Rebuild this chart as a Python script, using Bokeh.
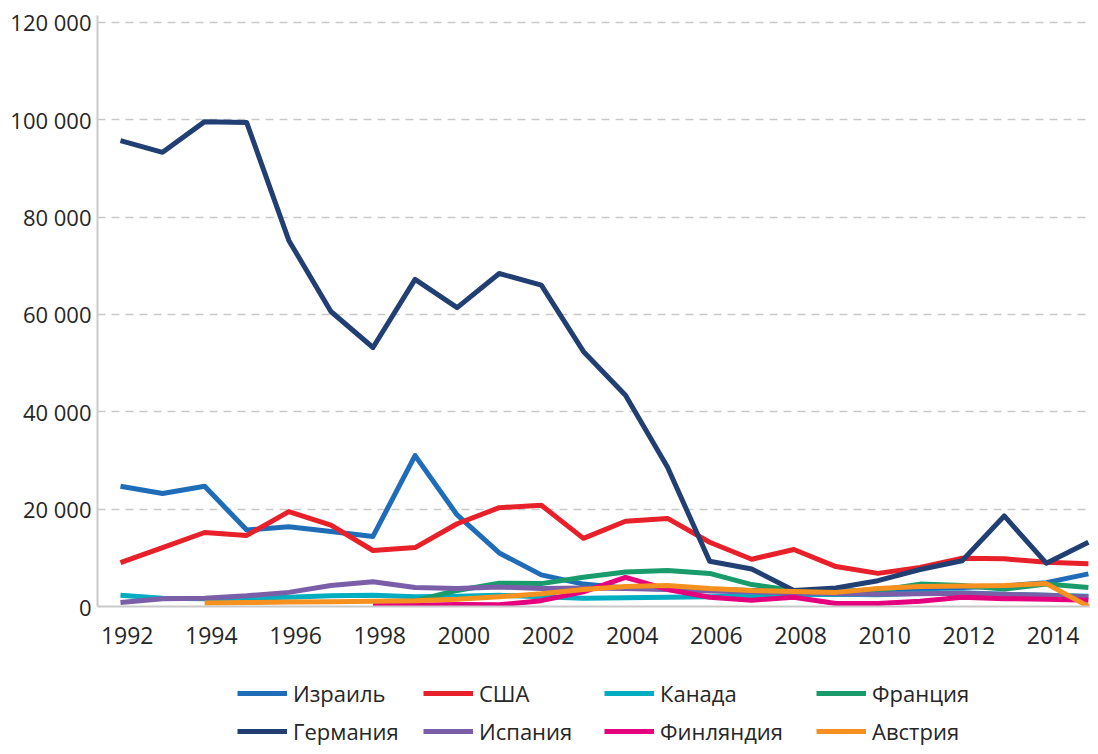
from bokeh.plotting import figure
from bokeh.layouts import column
from bokeh.models import Range1d, FixedTicker, Legend, LegendItem, ColumnDataSource
from bokeh.embed import file_html
from bokeh.resources import INLINE

years = [1992, 1993, 1994, 1995, 1996, 1997, 1998, 1999, 2000, 2001, 2002, 2003,
         2004, 2005, 2006, 2007, 2008, 2009, 2010, 2011, 2012, 2013, 2014, 2015]

israel = [24700, 23200, 24700, 15700, 16400, 15400, 14400, 31000, 18800, 11000, 6500, 4600,
          3800, 3600, 3500, 3300, 3300, 3200, 3300, 3600, 3900, 4200, 4900, 6700]
usa = [9000, 12100, 15200, 14600, 19500, 16700, 11500, 12100, 17000, 20300, 20800, 14000,
       17500, 18100, 13200, 9700, 11700, 8200, 6800, 8000, 9900, 9800, 9100, 8800]
canada = [2300, 1700, 1600, 1700, 1900, 2200, 2300, 2000, 2100, 2300, 2000, 1700,
          1800, 1900, 2000, 2200, 2400, 2500, 2400, 2700, 2800, 2500, 2300, 2100]
france = [None, None, None, None, None, None, 500, 1200, 3300, 4800, 4700, 6000,
          7100, 7400, 6800, 4500, 3300, 3100, 3300, 4600, 4300, 3600, 4600, 3900]
germany = [95700, 93300, 99600, 99400, 75200, 60600, 53200, 67200, 61400, 68400, 66000, 52400,
           43400, 28600, 9300, 7700, 3300, 3800, 5300, 7600, 9400, 18600, 8900, 13200]
spain = [800, 1600, 1700, 2200, 2900, 4300, 5100, 3900, 3700, 4000, 3700, 3800,
         3700, 3500, 3200, 3000, 2800, 2600, 2500, 2600, 2700, 2500, 2300, 2000]
finland = [None, None, None, None, None, None, 200, 250, 400, 350, 1200, 3000,
           6000, 3500, 1900, 1300, 1900, 600, 600, 1100, 1900, 1600, 1500, 1300]
austria = [None, None, 700, 800, 900, 1000, 1100, 1200, 1500, 2000, 2600, 3500,
           4100, 4300, 3700, 3300, 3100, 2900, 3700, 4100, 4200, 4300, 4700, 0]

names = ["Израиль", "США", "Канада", "Франция", "Германия", "Испания", "Финляндия", "Австрия"]
values = [israel, usa, canada, france, germany, spain, finland, austria]
colors = ["#1f6db8", "#e8202a", "#00adc1", "#1a9b6c", "#213f73", "#7a5fa8", "#e5007d", "#f6901e"]

y_ticks = [0, 20000, 40000, 60000, 80000, 100000, 120000]
y_tick_labels = ["0", "20 000", "40 000", "60 000", "80 000", "100 000", "120 000"]
x_tick_years = [1992, 1994, 1996, 1998, 2000, 2002, 2004, 2006, 2008, 2010, 2012, 2014]

FONT = "Open Sans"
TXT = "#262626"
AXIS = "#c9c9c9"
LABEL_SHIFT = 0.16  # labels sit slightly right of their category, as in the source

p = figure(width=1090, height=660, output_backend="svg", toolbar_location=None,
           x_range=Range1d(1991.454, 2015.05), y_range=Range1d(0, 121400),
           min_border_left=97, min_border_right=0, min_border_top=15, min_border_bottom=54)

sources = []
for name, vals, col in zip(names, values, colors):
    xs = [y for y, v in zip(years, vals) if v is not None]
    ys = [v for v in vals if v is not None]
    src = ColumnDataSource(dict(x=xs, y=ys))
    sources.append(src)
    p.line("x", "y", source=src, line_color=col, line_width=5, line_join="round")

p.outline_line_color = None
p.xgrid.grid_line_color = None
p.ygrid.grid_line_color = AXIS
p.ygrid.grid_line_width = 1.5
p.ygrid.grid_line_dash = "8 6"
p.ygrid.ticker = FixedTicker(ticks=y_ticks)

p.yaxis.ticker = FixedTicker(ticks=y_ticks)
p.yaxis.major_label_overrides = {t: l for t, l in zip(y_ticks, y_tick_labels)}
x_tick_pos = [yr + LABEL_SHIFT for yr in x_tick_years]
p.xaxis.ticker = FixedTicker(ticks=x_tick_pos)
p.xaxis.major_label_overrides = {t: str(yr) for t, yr in zip(x_tick_pos, x_tick_years)}
for ax in (p.xaxis, p.yaxis):
    ax.axis_line_color = AXIS
    ax.axis_line_width = 2
    ax.major_tick_line_color = None
    ax.minor_tick_line_color = None
    ax.major_tick_out = 0
    ax.major_tick_in = 0
    ax.major_label_text_font = FONT
    ax.major_label_text_color = TXT
p.yaxis.major_label_text_font_size = "22px"
p.yaxis.major_label_standoff = 6
p.xaxis.major_label_text_font_size = "23px"
p.xaxis.major_label_standoff = 20

# legend figure below the chart (its frame is aligned with the chart's frame)
lg_fig = figure(width=1090, height=86, output_backend="svg", toolbar_location=None,
                x_range=Range1d(0, 993), y_range=Range1d(0, 86),
                min_border_left=97, min_border_right=0, min_border_top=0, min_border_bottom=0)
lg_fig.axis.visible = False
lg_fig.grid.visible = False
lg_fig.outline_line_color = None

swatches = []
for src, col in zip(sources, colors):
    # same series, outside this figure's view: only their legend swatches show
    swatches.append(lg_fig.line("x", "y", source=src, line_color=col, line_width=5))

col_offsets = [140, 326, 507, 719]
for c, off in enumerate(col_offsets):
    its = [LegendItem(label=names[c], renderers=[swatches[c]]),
           LegendItem(label=names[c + 4], renderers=[swatches[c + 4]])]
    lg = Legend(items=its, orientation="vertical", location=(off, 0),
                label_text_font=FONT, label_text_font_size="22px", label_text_color=TXT,
                glyph_width=50, glyph_height=28, label_height=28, label_standoff=6, spacing=8,
                padding=0, margin=0, border_line_color=None, background_fill_alpha=0)
    lg_fig.add_layout(lg, "center")

layout = column(p, lg_fig, spacing=0)
open("out.html", "w").write(file_html(layout, INLINE))
